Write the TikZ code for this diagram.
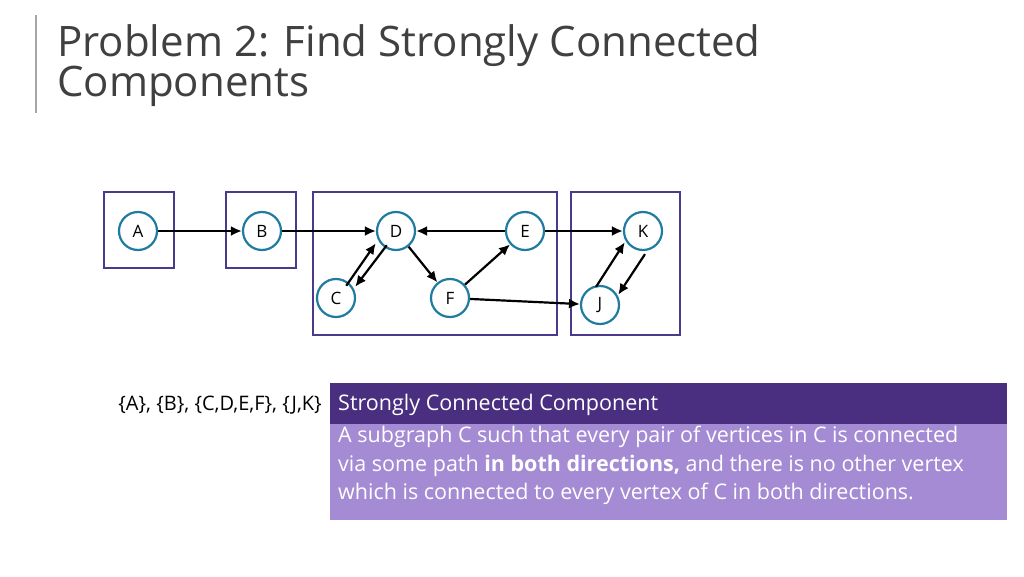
\documentclass[tikz,border=0pt]{standalone}
\usepackage{fontspec}
\setmainfont{Open Sans}
\usetikzlibrary{arrows.meta}
\definecolor{ttl}{HTML}{404040}
\definecolor{frm}{HTML}{4B3A8C}
\definecolor{ring}{HTML}{1F7BA0}
\definecolor{hdr}{HTML}{4A2E80}
\definecolor{bdy}{HTML}{A48BD4}
\begin{document}
\begin{tikzpicture}[x=1pt,y=-1pt,
  vtx/.style={circle,draw=ring,line width=2.2pt,fill=white,minimum size=38pt,inner sep=0pt,font=\fontsize{17}{19}\selectfont},
  frame/.style={draw=frm,line width=2pt},
  edge/.style={-{Latex[length=11pt,width=10pt]},line width=2.2pt,black}]
\useasboundingbox (0,0) rectangle (1024,576);
\fill[white] (0,0) rectangle (1024,576);
\draw[gray!70,line width=1.2pt] (36,15) -- (36,113);
\node[anchor=base west,inner sep=0pt,text=ttl,font=\fontsize{42}{46}\selectfont] (t1) at (57,56) {Problem 2: Find Strongly Connected};
\node[anchor=base west,inner sep=0pt,text=ttl,font=\fontsize{42}{46}\selectfont] (t2) at (57,96) {Components};
\draw[frame] (104,192) rectangle (174,268);
\draw[frame] (226,192) rectangle (296,268);
\draw[frame] (313,192) rectangle (557,335);
\draw[frame] (571,192) rectangle (680,335);
\node[vtx] (A) at (138,231) {A};
\node[vtx] (B) at (262,231) {B};
\node[vtx] (D) at (396,231) {D};
\node[vtx] (E) at (525,231) {E};
\node[vtx] (K) at (643,231) {K};
\node[vtx] (C) at (336,298) {C};
\node[vtx] (F) at (450,298) {F};
\node[vtx] (J) at (600,305) {J};
\draw[edge] (A) -- (B);
\draw[edge] (B) -- (D);
\draw[edge] (E) -- (D);
\draw[edge] (E) -- (K);
\draw[edge] (D) -- (F);
\draw[edge] (F) -- (E);
\draw[edge] (F) -- (J);
\draw[edge] ([xshift=-4pt,yshift=-2pt]C.north east) -- ([xshift=-6pt,yshift=2pt]D.south west);
\draw[edge] ([xshift=5pt]D.south west) -- ([xshift=5pt,yshift=-3pt]C.north east);
\draw[edge] ([xshift=-4pt,yshift=-2pt]J.north) -- ([xshift=-4pt,yshift=3pt]K.south west);
\draw[edge] ([xshift=2pt,yshift=-3pt]K.south) -- ([xshift=4pt,yshift=-4pt]J.north east);
\fill[hdr] (330,383) rectangle (1007,424);
\fill[bdy] (330,424) rectangle (1007,520);
\node[anchor=west,inner sep=0pt,text=white,font=\fontsize{21.5}{24}\selectfont] (h) at (338,405) {Strongly Connected Component};
\node[anchor=north west,inner sep=0pt,text=white,align=left,font=\fontsize{21.5}{28.5}\selectfont] (b) at (338,426) {A subgraph C such that every pair of vertices in C is connected\\via some path \textbf{in both directions,} and there is no other vertex\\which is connected to every vertex of C in both directions.};
\node[anchor=east,inner sep=0pt,text=black,font=\fontsize{20}{22}\selectfont] (s) at (322,405) {\{A\}, \{B\}, \{C,D,E,F\}, \{J,K\}};
\end{tikzpicture}
\end{document}
